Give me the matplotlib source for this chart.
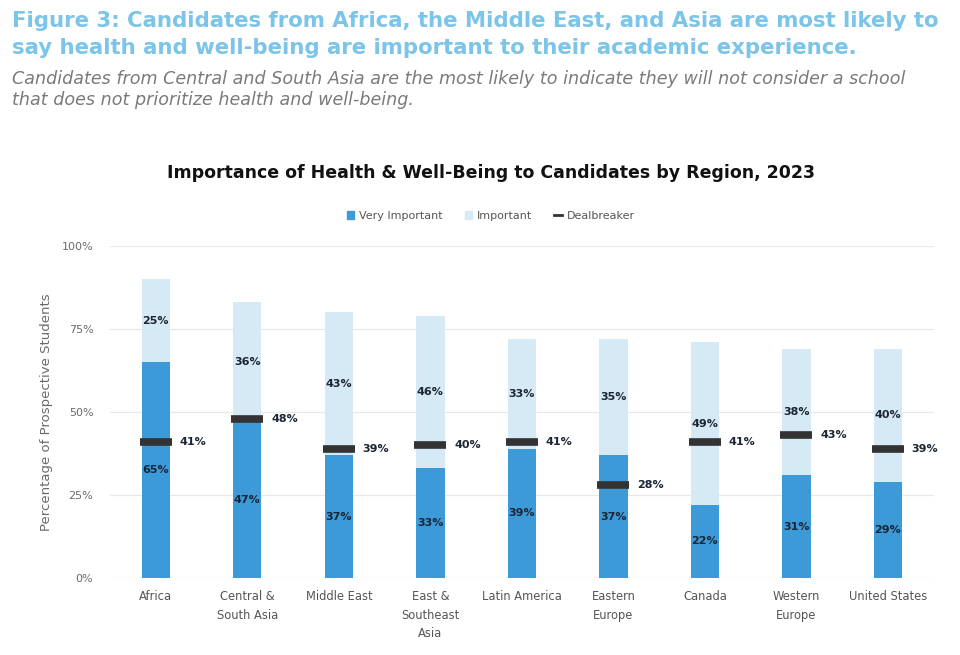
import matplotlib
matplotlib.use("Agg")
import matplotlib.pyplot as plt
import numpy as np
from matplotlib.patches import Patch
from matplotlib.lines import Line2D

regions = ["Africa", "Central &\nSouth Asia", "Middle East", "East &\nSoutheast\nAsia",
           "Latin America", "Eastern\nEurope", "Canada", "Western\nEurope", "United States"]
very_important = [65, 47, 37, 33, 39, 37, 22, 31, 29]
important = [25, 36, 43, 46, 33, 35, 49, 38, 40]
dealbreaker = [41, 48, 39, 40, 41, 28, 41, 43, 39]
yticks = [0, 25, 50, 75, 100]

FONT = "DejaVu Sans"
plt.rcParams['font.family'] = [FONT]

DARK = "#3d9ad9"
LIGHT = "#d6eaf6"
MARK = "#333333"
TXT = "#1b2533"
GRAY = "#6a6a6a"

fig = plt.figure(figsize=(9.6, 6.55), dpi=100)
ax = fig.add_axes([0.1146, 0.1176, 0.858, 0.5068])

x = np.arange(len(regions))
w = 0.31
vi = np.array(very_important)
im = np.array(important)
db = np.array(dealbreaker)

ax.bar(x, vi, width=w, color=DARK, zorder=2)
ax.bar(x, im, width=w, bottom=vi, color=LIGHT, zorder=2)
ax.hlines(db, x - 0.175, x + 0.175, colors=MARK, linewidth=5.5, zorder=3)

for i in range(len(regions)):
    ax.text(x[i], vi[i] / 2, f"{vi[i]}%", ha="center", va="center",
            fontsize=8, fontweight="bold", color=TXT, zorder=4)
    ax.text(x[i], vi[i] + im[i] / 2, f"{im[i]}%", ha="center", va="center",
            fontsize=8, fontweight="bold", color=TXT, zorder=4)
    ax.text(x[i] + 0.26, db[i], f"{db[i]}%", ha="left", va="center",
            fontsize=8, fontweight="bold", color=TXT, zorder=4)

ax.set_xlim(-0.5, len(regions) - 0.5)
ax.set_ylim(0, 100)
ax.set_yticks(yticks)
ax.set_yticklabels([f"{t}%" for t in yticks], color=GRAY, fontsize=8)
ax.set_xticks(x)
ax.set_xticklabels(regions, color="#555555", fontsize=8.3, linespacing=1.55)
ax.tick_params(axis="both", length=0)
ax.tick_params(axis="y", pad=12)
ax.tick_params(axis="x", pad=9)
ax.grid(axis="y", color="#e8e8e8", linewidth=0.9, zorder=0)
for s in ax.spines.values():
    s.set_visible(False)
ax.set_ylabel("Percentage of Prospective Students", color=GRAY, fontsize=9.5, labelpad=6)

fig.text(0.0125, 0.968, "Figure 3: Candidates from Africa, the Middle East, and Asia are most likely to",
         fontsize=15.3, fontweight="bold", color="#7cc4e8", va="center", ha="left")
fig.text(0.0125, 0.927, "say health and well-being are important to their academic experience.",
         fontsize=15.3, fontweight="bold", color="#7cc4e8", va="center", ha="left")
fig.text(0.0125, 0.879, "Candidates from Central and South Asia are the most likely to indicate they will not consider a school",
         fontsize=12.6, fontstyle="italic", color="#7a7a7a", va="center", ha="left")
fig.text(0.0125, 0.848, "that does not prioritize health and well-being.",
         fontsize=12.6, fontstyle="italic", color="#7a7a7a", va="center", ha="left")

fig.text(0.511, 0.736, "Importance of Health & Well-Being to Candidates by Region, 2023",
         fontsize=12.5, fontweight="bold", color="#111111", ha="center", va="center")

handles = [Patch(color=DARK), Patch(color=LIGHT), Line2D([0], [0], color=MARK, lw=2)]
leg = fig.legend(handles, ["Very Important", "Important", "Dealbreaker"], ncol=3,
                 loc="center", bbox_to_anchor=(0.511, 0.67), frameon=False,
                 fontsize=8, handlelength=0.7, handleheight=0.7, columnspacing=2.0,
                 handletextpad=0.4)
for t in leg.get_texts():
    t.set_color("#555555")

fig.savefig("out.png", dpi=100, facecolor="white")
